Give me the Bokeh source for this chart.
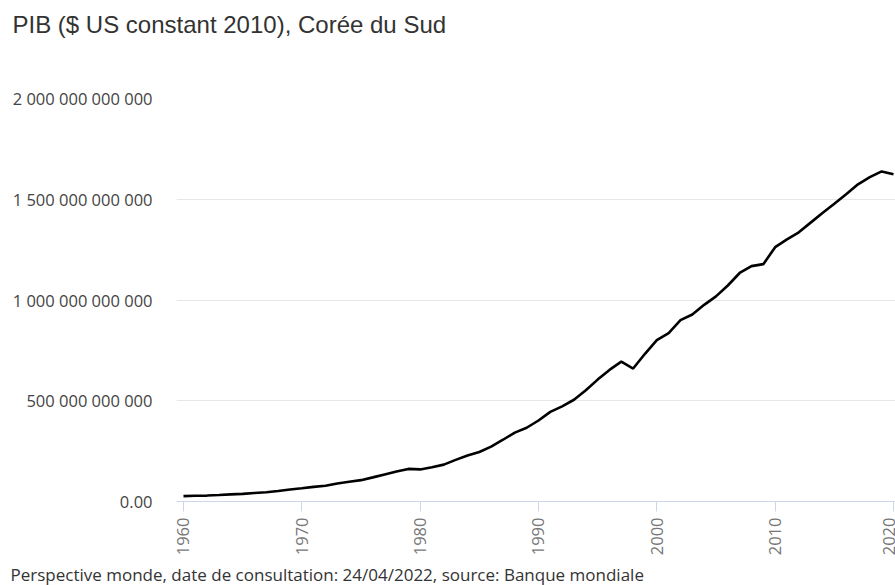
from bokeh.plotting import figure
from bokeh.models import ColumnDataSource, FixedTicker, CustomJSTickFormatter, Title, Range1d
from bokeh.embed import file_html
from bokeh.resources import INLINE

# --- data -------------------------------------------------------------
years = list(range(1960, 2021))
gdp_bn = [
    26.5, 28.4, 29.4, 32.2, 35.2, 37.8, 42.3, 46.1, 52.2, 59.8,
    65.8, 72.7, 78.0, 89.6, 98.1, 105.9, 119.7, 134.4, 148.9, 161.8,
    159.2, 170.0, 183.0, 206.5, 228.0, 245.5, 272.5, 306.5, 342.0, 366.0,
    402.0, 445.0, 472.0, 505.0, 552.0, 605.0, 653.0, 694.0, 660.0, 733.0,
    801.0, 836.0, 900.0, 928.0, 976.0, 1018.0, 1072.0, 1134.0, 1168.0, 1178.0,
    1262.0, 1301.0, 1336.0, 1384.0, 1432.0, 1478.0, 1525.0, 1574.0, 1610.0, 1638.0,
    1624.0,
]
x_ticks = [1960, 1970, 1980, 1990, 2000, 2010, 2020]
x_tick_labels = ["1960", "1970", "1980", "1990", "2000", "2010", "2020"]
y_ticks = [0, 500e9, 1000e9, 1500e9, 2000e9]

title_text = "PIB ($ US constant 2010), Corée du Sud"
footer_text = "Perspective monde, date de consultation: 24/04/2022, source: Banque mondiale"

source = ColumnDataSource(data=dict(year=years, gdp=[v * 1e9 for v in gdp_bn]))

# --- figure -----------------------------------------------------------
p = figure(
    width=895, height=585,
    output_backend="svg", toolbar_location=None,
    x_range=Range1d(1959.41, 2020.17),
    y_range=Range1d(0, 2000e9),
    min_border_left=176, min_border_right=0,
    min_border_top=0, min_border_bottom=0,
)
p.outline_line_color = None
p.background_fill_color = "white"
p.border_fill_color = "white"

p.line("year", "gdp", source=source, line_color="#000000", line_width=2.6)

# x axis
p.xaxis.ticker = FixedTicker(ticks=x_ticks)
p.xaxis.major_label_overrides = {t: l for t, l in zip(x_ticks, x_tick_labels)}
p.xaxis.major_label_orientation = 1.5707963
p.xaxis.axis_line_color = "#ccd6eb"
p.xaxis.major_tick_line_color = "#ccd6eb"
p.xaxis.major_tick_out = 10
p.xaxis.major_tick_in = 0
p.xaxis.minor_tick_line_color = None
p.xaxis.major_label_standoff = 6
p.xaxis.major_label_text_font = "Open Sans"
p.xaxis.major_label_text_font_size = "16.5px"
p.xaxis.major_label_text_color = "#777777"

# y axis
p.yaxis.ticker = FixedTicker(ticks=y_ticks)
p.yaxis.formatter = CustomJSTickFormatter(code="""
    if (tick == 0) { return "0.00"; }
    return Math.round(tick).toString().replace(/\\B(?=(\\d{3})+(?!\\d))/g, " ");
""")
p.yaxis.axis_line_color = None
p.yaxis.major_tick_line_color = None
p.yaxis.minor_tick_line_color = None
p.yaxis.major_label_standoff = 18
p.yaxis.major_label_text_font = "Open Sans"
p.yaxis.major_label_text_font_size = "16.5px"
p.yaxis.major_label_text_color = "#444444"

p.xgrid.grid_line_color = None
p.ygrid.grid_line_color = "#e6e6e6"
p.ygrid.grid_line_width = 1

# title and footer
p.add_layout(Title(text=title_text, align="left", offset=-164,
                   text_font="Liberation Sans", text_font_size="24px",
                   text_font_style="normal", text_color="#333333",
                   standoff=17, padding=(0, 0, 0, 52)), "above")
p.add_layout(Title(text=footer_text, align="left", offset=-166,
                   text_font="Open Sans", text_font_size="17px",
                   text_font_style="normal", text_color="#333333",
                   standoff=0, padding=(0, 0, 2, 0)), "below")

open("out.html", "w").write(file_html(p, INLINE))
